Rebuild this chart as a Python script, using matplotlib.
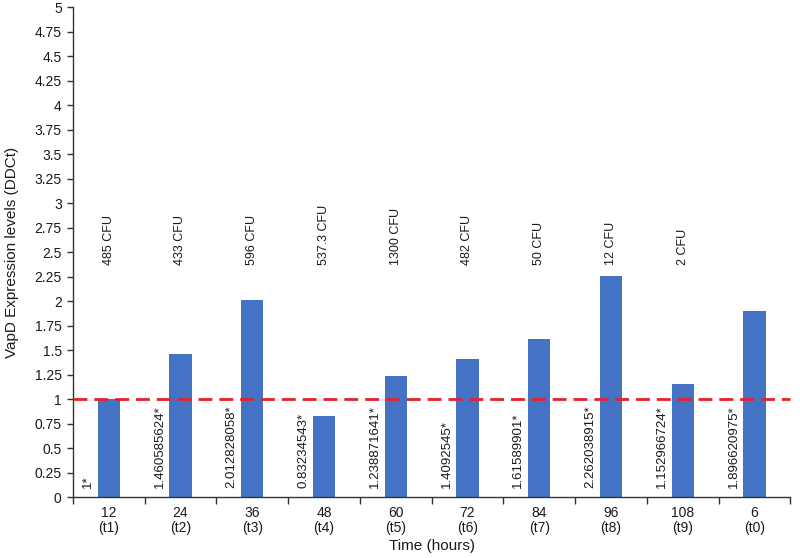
# VapD expression bar chart
import matplotlib
matplotlib.use("Agg")
import matplotlib.pyplot as plt     # graphs
import numpy as np                  # positions

plt.rcParams['font.family'] = ['Liberation Sans', 'DejaVu Sans']

# data
hours = ['12', '24', '36', '48', '60', '72', '84', '96', '108', '6']
points = ['t1', 't2', 't3', 't4', 't5', 't6', 't7', 't8', 't9', 't0']
ddct = [1.0, 1.460585624, 2.012828058, 0.83234543, 1.238871641,
        1.4092545, 1.61589901, 2.262038915, 1.152966724, 1.896620975]
value_labels = ['1*', '1.460585624*', '2.012828058*', '0.83234543*', '1.238871641*',
                '1.4092545*', '1.61589901*', '2.262038915*', '1.152966724*', '1.896620975*']
cfu_labels = ['485 CFU', '433 CFU', '596 CFU', '537.3 CFU', '1300 CFU',
              '482 CFU', '50 CFU', '12 CFU', '2 CFU']
threshold = 1.0

x = np.arange(len(hours))

fig = plt.figure(figsize=(8, 5.58), dpi=100)
ax = fig.add_axes([0.091, 0.109, 0.897, 0.878])

ax.bar(x, ddct, width=0.31, color='#4472C4', zorder=2)
ax.axhline(threshold, color='#E8202A', linewidth=2, dashes=(5, 2.5), zorder=3, clip_on=False)

# rotated value labels left of each bar
for i, lab in enumerate(value_labels):
    ax.text(i - 0.29, 0.09, lab, rotation=90, ha='center', va='bottom',
            fontsize=9.5, color='#1a1a1a')

# CFU counts above the bars
for i, lab in enumerate(cfu_labels):
    ax.text(i, 2.37, lab, rotation=90, ha='center', va='bottom',
            fontsize=9, color='#1a1a1a')

ax.set_xlim(-0.5, len(hours) - 0.5)
ax.set_ylim(0, 5)
ax.set_yticks(np.arange(0, 5.01, 0.25))
ax.set_yticklabels([f'{v:g}' for v in np.arange(0, 5.01, 0.25)])

ax.set_xticks(x)
ax.set_xticklabels([f'{h}\n({p})' for h, p in zip(hours, points)], linespacing=1.15)
ax.set_xticks(np.arange(-0.5, len(hours)), minor=True)
ax.tick_params(axis='x', which='major', length=0, pad=6, labelsize=10, colors='#1a1a1a')
ax.tick_params(axis='x', which='minor', length=5, width=1, color='#333333')
ax.tick_params(axis='y', length=4, width=1, pad=4, labelsize=10, colors='#1a1a1a', color='#333333')

for side in ['top', 'right']:
    ax.spines[side].set_visible(False)
for side in ['left', 'bottom']:
    ax.spines[side].set_color('#333333')
    ax.spines[side].set_linewidth(1)

ax.set_xlabel('Time (hours)', fontsize=11, color='#1a1a1a', labelpad=3)
ax.set_ylabel('VapD Expression levels (DDCt)', fontsize=11, color='#1a1a1a', labelpad=11)

plt.savefig('out.png', dpi=100)
